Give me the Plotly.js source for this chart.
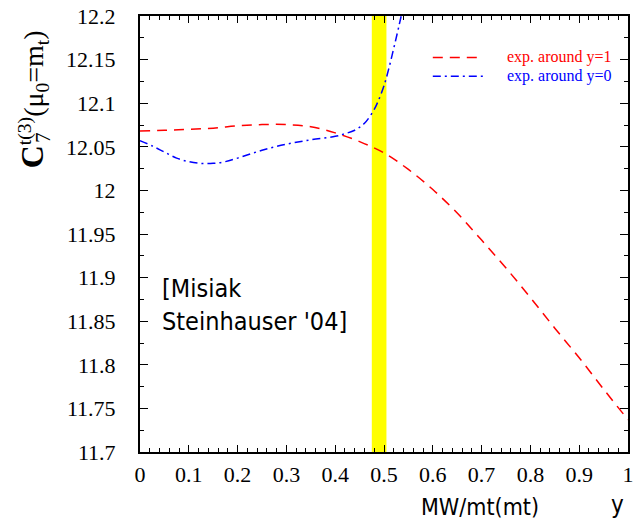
<!DOCTYPE html>
<html>
<head>
<meta charset="utf-8">
<script src="https://cdn.plot.ly/plotly-3.0.1.min.js"></script>
<style>html,body{margin:0;padding:0;background:#fff;}</style>
</head>
<body>
<div id="chart" style="width:634px;height:522px;"></div>
<script>
// exp. around y=1 (red dashed)
const xRed = [0, 0.05, 0.1, 0.15, 0.2, 0.25, 0.3, 0.35, 0.4, 0.45, 0.5, 0.55, 0.6, 0.65, 0.7, 0.75, 0.8, 0.85, 0.9, 0.95, 1.0];
const yRed = [12.068, 12.069, 12.070, 12.0714, 12.074, 12.0755, 12.0755, 12.073, 12.066, 12.056, 12.043, 12.024, 12.001, 11.974, 11.943, 11.911, 11.877, 11.842, 11.808, 11.772, 11.737];
// exp. around y=0 (blue dash-dot)
const xBlue = [0, 0.025, 0.05, 0.075, 0.1, 0.125, 0.15, 0.175, 0.2, 0.25, 0.3, 0.35, 0.4, 0.42, 0.44, 0.46, 0.48, 0.49, 0.5, 0.51, 0.52, 0.53, 0.54];
const yBlue = [12.057, 12.051, 12.044, 12.037, 12.033, 12.031, 12.031, 12.033, 12.037, 12.046, 12.053, 12.058, 12.062, 12.065, 12.069, 12.077, 12.093, 12.105, 12.12, 12.14, 12.163, 12.187, 12.212];
// yellow band
const bandX = [0.475, 0.505];
const seriesNames = ["exp. around y=1", "exp. around y=0"];
const seriesColors = ["#ff0000", "#0000ff"];

const traces = [
  {x: xRed, y: yRed, mode: "lines", line: {color: seriesColors[0], width: 1.5, dash: "10px,7px", shape: "spline"}, showlegend: false, name: seriesNames[0]},
  {x: xBlue, y: yBlue, mode: "lines", line: {color: seriesColors[1], width: 1.5, dash: "8px,4px,2px,4px", shape: "spline"}, showlegend: false, name: seriesNames[1]}
];

const serif = "Liberation Serif";
const sans = "DejaVu Sans Condensed, DejaVu Sans";

function axisBase() {
  return {
    showgrid: false, zeroline: false, showline: true, linecolor: "#000", linewidth: 2,
    mirror: "allticks", ticks: "inside", tickcolor: "#000", tickwidth: 1,
    tickfont: {family: serif, size: 22, color: "#000"}
  };
}

const layout = {
  width: 634, height: 522,
  margin: {l: 140, r: 6, t: 16, b: 70, pad: 0},
  paper_bgcolor: "#fff", plot_bgcolor: "#fff",
  font: {family: serif, color: "#000"},
  showlegend: false,
  xaxis: Object.assign(axisBase(), {
    range: [0, 1], dtick: 0.1, tick0: 0, ticklen: 7,
    minor: {dtick: 0.02, ticks: "inside", ticklen: 4, tickcolor: "#000", showgrid: false},
    ticklabelstandoff: 2
  }),
  yaxis: Object.assign(axisBase(), {
    range: [11.7, 12.2], dtick: 0.05, tick0: 11.7, ticklen: 8,
    minor: {dtick: 0.025, ticks: "inside", ticklen: 4, tickcolor: "#000", showgrid: false},
    ticklabelstandoff: 18
  }),
  shapes: [
    {type: "rect", xref: "x", yref: "paper", x0: bandX[0], x1: bandX[1], y0: 0, y1: 1, fillcolor: "#ffff00", line: {width: 0}, layer: "below"},
    {type: "line", xref: "paper", yref: "paper", x0: 0.600, x1: 0.703, y0: 0.905, y1: 0.905, line: {color: seriesColors[0], width: 1.5, dash: "10px,7px"}},
    {type: "line", xref: "paper", yref: "paper", x0: 0.600, x1: 0.703, y0: 0.862, y1: 0.862, line: {color: seriesColors[1], width: 1.5, dash: "8px,4px,2px,4px"}}
  ],
  annotations: [
    {xref: "paper", yref: "paper", x: 0.748, y: 0.905, xanchor: "left", yanchor: "middle", showarrow: false,
     text: seriesNames[0], font: {family: serif, size: 16, color: seriesColors[0]}},
    {xref: "paper", yref: "paper", x: 0.748, y: 0.862, xanchor: "left", yanchor: "middle", showarrow: false,
     text: seriesNames[1], font: {family: serif, size: 16, color: seriesColors[1]}},
    {xref: "paper", yref: "paper", x: -0.219, y: 0.6465, xanchor: "center", yanchor: "bottom", showarrow: false, textangle: -90,
     text: "<b style='font-size:32px'>C</b><sup>t(3)</sup>(μ<sub>0</sub>=m<sub>t</sub>)",
     font: {family: serif, size: 28, color: "#000"}},
    {xref: "paper", yref: "paper", x: -0.199, y: 0.722, xanchor: "center", yanchor: "middle", showarrow: false, textangle: -90,
     text: "7", font: {family: serif, size: 21, color: "#000"}},
    {xref: "paper", yref: "paper", x: 0.041, y: 0.413, xanchor: "left", yanchor: "top", align: "left", showarrow: false,
     text: "[Misiak<br>Steinhauser '04]", font: {family: sans, size: 25, color: "#000"}},
    {xref: "paper", yref: "paper", x: 0.697, y: -0.125, xanchor: "center", yanchor: "middle", showarrow: false,
     text: "MW/mt(mt)", font: {family: sans, size: 23, color: "#000"}},
    {xref: "paper", yref: "paper", x: 0.978, y: -0.122, xanchor: "center", yanchor: "middle", showarrow: false,
     text: "y", font: {family: sans, size: 24, color: "#000"}}
  ]
};

Plotly.newPlot("chart", traces, layout, {displayModeBar: false, staticPlot: true});
</script>
</body>
</html>
